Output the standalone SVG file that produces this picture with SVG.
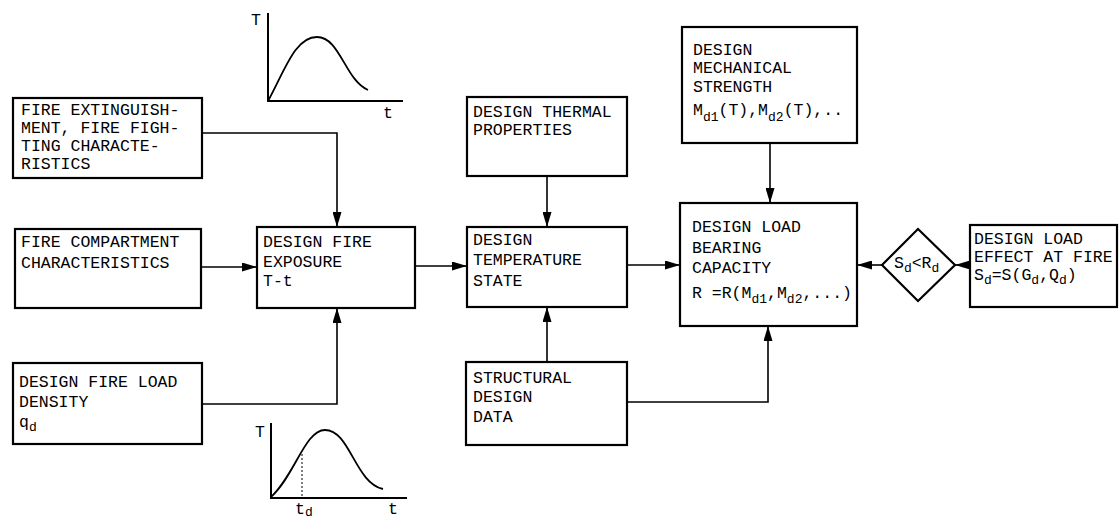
<svg xmlns="http://www.w3.org/2000/svg" width="1119" height="520" viewBox="0 0 1119 520">
<style>
.box{fill:#fff;stroke:#000;stroke-width:2.2}
.c{fill:none;stroke:#000;stroke-width:1.6}
.t{font-family:"Liberation Mono","DejaVu Sans Mono",monospace;font-size:16.5px;fill:#000}
.s{font-size:13px}
.ax{fill:none;stroke:#000;stroke-width:2}
.cv{fill:none;stroke:#000;stroke-width:1.8}
</style>
<defs>
<marker id="ah" viewBox="0 0 15 9" refX="15" refY="4.5" markerWidth="15" markerHeight="9" markerUnits="userSpaceOnUse" orient="auto">
<path d="M0,0 L15,4.5 L0,9 Z" fill="#000"/>
</marker>
</defs>
<rect width="1119" height="520" fill="#fff"/>

<g id="graph-top">
<path class="ax" d="M268,13 V101 H403"/>
<path class="cv" d="M268,101 C285,70 295,37 317,37 C340,37 345,80 368,90"/>
<text class="t" x="251" y="25">T</text>
<text class="t" x="383" y="118">t</text>
</g>

<g id="graph-bottom">
<path class="ax" d="M271,423 V498 H407"/>
<path class="cv" d="M271,497 C295,475 305,430 325,430 C350,430 355,483 383,489"/>
<path d="M302,454 V498" stroke="#000" stroke-width="1" stroke-dasharray="2,2" fill="none"/>
<text class="t" x="255" y="437">T</text>
<text class="t" x="295" y="514">t<tspan class="s" dy="2">d</tspan></text>
<text class="t" x="388" y="514">t</text>
</g>

<g id="connectors">
<path class="c" d="M202,133 H337 V227" marker-end="url(#ah)"/>
<path class="c" d="M201,267 H257" marker-end="url(#ah)"/>
<path class="c" d="M202,404 H337 V308" marker-end="url(#ah)"/>
<path class="c" d="M415,266 H467" marker-end="url(#ah)"/>
<path class="c" d="M547,176 V227" marker-end="url(#ah)"/>
<path class="c" d="M547,362 V307" marker-end="url(#ah)"/>
<path class="c" d="M627,265 H680" marker-end="url(#ah)"/>
<path class="c" d="M770,143 V203" marker-end="url(#ah)"/>
<path class="c" d="M627,402 H768 V326" marker-end="url(#ah)"/>
<path class="c" d="M882,265 H857" marker-end="url(#ah)"/>
<path class="c" d="M970,265 H955" marker-end="url(#ah)"/>
</g>

<g id="fire-extinguishment">
<rect class="box" x="13" y="98" width="189" height="80"/>
<text class="t" x="21" y="115">FIRE EXTINGUISH-</text>
<text class="t" x="21" y="133">MENT, FIRE FIGH-</text>
<text class="t" x="21" y="151">TING  CHARACTE-</text>
<text class="t" x="21" y="169">RISTICS</text>
</g>

<g id="fire-compartment">
<rect class="box" x="15" y="229" width="186" height="79"/>
<text class="t" x="21" y="247">FIRE COMPARTMENT</text>
<text class="t" x="21" y="268">CHARACTERISTICS</text>
</g>

<g id="fire-load-density">
<rect class="box" x="13" y="363" width="189" height="81"/>
<text class="t" x="19" y="387">DESIGN FIRE LOAD</text>
<text class="t" x="19" y="407">DENSITY</text>
<text class="t" x="19" y="427">q<tspan class="s" dy="4">d</tspan></text>
</g>

<g id="fire-exposure">
<rect class="box" x="257" y="227" width="158" height="81"/>
<text class="t" x="263" y="247">DESIGN FIRE</text>
<text class="t" x="263" y="267">EXPOSURE</text>
<text class="t" x="263" y="286">T-t</text>
</g>

<g id="thermal-properties">
<rect class="box" x="467" y="97" width="160" height="79"/>
<text class="t" x="473" y="117">DESIGN THERMAL</text>
<text class="t" x="473" y="135">PROPERTIES</text>
</g>

<g id="temperature-state">
<rect class="box" x="467" y="227" width="160" height="80"/>
<text class="t" x="473" y="245">DESIGN</text>
<text class="t" x="473" y="265">TEMPERATURE</text>
<text class="t" x="473" y="286">STATE</text>
</g>

<g id="structural-data">
<rect class="box" x="466" y="362" width="161" height="83"/>
<text class="t" x="473" y="383">STRUCTURAL</text>
<text class="t" x="473" y="402">DESIGN</text>
<text class="t" x="473" y="422">DATA</text>
</g>

<g id="mechanical-strength">
<rect class="box" x="682" y="27" width="175" height="116"/>
<text class="t" x="693" y="55">DESIGN</text>
<text class="t" x="693" y="73">MECHANICAL</text>
<text class="t" x="693" y="92">STRENGTH</text>
<text class="t" x="693" y="115">M<tspan class="s" dy="6">d1</tspan><tspan dy="-6">(T),M</tspan><tspan class="s" dy="6">d2</tspan><tspan dy="-6">(T),..</tspan></text>
</g>

<g id="load-bearing-capacity">
<rect class="box" x="680" y="203" width="177" height="123"/>
<text class="t" x="692" y="232">DESIGN LOAD</text>
<text class="t" x="692" y="253">BEARING</text>
<text class="t" x="692" y="273">CAPACITY</text>
<text class="t" x="692" y="298">R =R(M<tspan class="s" dy="5">d1</tspan><tspan dy="-5">,M</tspan><tspan class="s" dy="5">d2</tspan><tspan dy="-5">,...)</tspan></text>
</g>

<g id="check">
<path class="box" d="M918,229 L955,265 L918,301 L882,265 Z"/>
<text class="t" x="894" y="268">S<tspan class="s" dy="4">d</tspan><tspan dy="-4">&lt;R</tspan><tspan class="s" dy="4">d</tspan></text>
</g>

<g id="load-effect">
<rect class="box" x="970" y="225" width="147" height="82"/>
<text class="t" x="974" y="244">DESIGN LOAD</text>
<text class="t" x="974" y="262">EFFECT AT FIRE</text>
<text class="t" x="974" y="280">S<tspan class="s" dy="4">d</tspan><tspan dy="-4">=S(G</tspan><tspan class="s" dy="4">d</tspan><tspan dy="-4">,Q</tspan><tspan class="s" dy="4">d</tspan><tspan dy="-4">)</tspan></text>
</g>
</svg>
